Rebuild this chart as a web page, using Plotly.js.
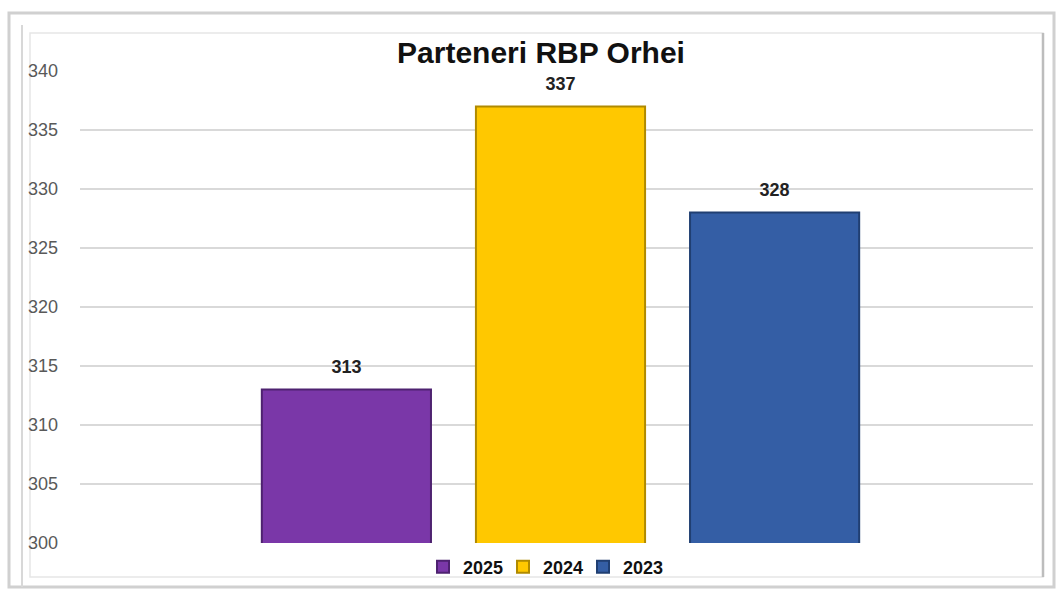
<!DOCTYPE html>
<html>
<head>
<meta charset="utf-8">
<script src="https://cdn.plot.ly/plotly-3.0.1.min.js"></script>
<style>html,body{margin:0;padding:0;background:#fff;}#chart{width:1056px;height:591px;}</style>
</head>
<body>
<div id="chart"></div>
<script>
const category = [''];
const seriesNames = ['2025', '2024', '2023'];
const seriesValues = [[313], [337], [328]];
const seriesColors = ['#7A37A8', '#FFC800', '#345EA5'];
const edgeColors = ['#4E2270', '#B08A00', '#203F72'];
const yTicks = [300, 305, 310, 315, 320, 325, 330, 335, 340];

const FONT = 'Liberation Sans, Arial, sans-serif';

const traces = seriesNames.map((name, i) => ({
  type: 'bar',
  name: name,
  x: category,
  y: seriesValues[i],
  marker: { color: seriesColors[i], line: { color: edgeColors[i], width: 2 } },
  text: seriesValues[i].map(v => String(v)),
  texttemplate: '<span style="font-size:18px"><b>%{text}</b></span><br> ',
  textposition: 'outside',
  cliponaxis: false,
  textfont: { family: FONT, size: 9, color: '#222222' },
  hoverinfo: 'none'
}));

// pixel -> paper helpers for the decorative frame (plot area 80..1033 x, 71..543 y)
const L = 80, R = 1033, T = 71, B = 543;
const px = v => (v - L) / (R - L);
const py = v => (B - v) / (B - T);
function frameRect(x0, y0, x1, y1, color, width) {
  return { type: 'rect', xref: 'paper', yref: 'paper', x0: px(x0), x1: px(x1), y0: py(y1), y1: py(y0),
           line: { color: color, width: width }, fillcolor: 'rgba(0,0,0,0)', layer: 'below' };
}
function frameLine(x0, y0, x1, y1, color, width) {
  return { type: 'line', xref: 'paper', yref: 'paper', x0: px(x0), x1: px(x1), y0: py(y0), y1: py(y1),
           line: { color: color, width: width }, layer: 'below' };
}

const layout = {
  width: 1056, height: 591,
  paper_bgcolor: '#ffffff', plot_bgcolor: 'rgba(0,0,0,0)',
  margin: { l: L, r: 1056 - R, t: T, b: 591 - B },
  title: { text: '<b>Parteneri RBP Orhei</b>', x: 541 / 1056, xanchor: 'center', y: 1 - 52 / 591, yanchor: 'middle',
           font: { family: FONT, size: 30, color: '#111111' } },
  barmode: 'group', bargap: 0.326, bargroupgap: 0.21,
  xaxis: { range: [-0.5042, 0.4958], showticklabels: false, showgrid: false, zeroline: false, showline: false, fixedrange: true },
  yaxis: { range: [300, 340], tickvals: yTicks, ticktext: yTicks.map(String), showgrid: true, gridcolor: '#D9D9D9', gridwidth: 1.5,
           zeroline: false, showline: false, ticks: '', ticklabelstandoff: 21,
           tickfont: { family: FONT, size: 18, color: '#595959' } },
  showlegend: true,
  legend: { orientation: 'h', x: 543 / 1056, xanchor: 'center', xref: 'container', y: (591 - 567) / 591, yanchor: 'middle', yref: 'container',
            traceorder: 'normal', bgcolor: 'rgba(0,0,0,0)', entrywidth: 35, entrywidthmode: 'pixels',
            font: { family: FONT, size: 18, color: '#111111', weight: 'bold' }, itemwidth: 30 },
  shapes: [
    frameRect(9, 13, 1054, 587, '#D0D0D0', 3),
    frameLine(22, 25, 22, 587, '#D8D8D8', 2),
    frameRect(30, 33, 1043, 577, '#E6E6E6', 1.5),
    frameLine(1043, 33, 1043, 577, '#BDBDBD', 2.5)
  ]
};

Plotly.newPlot('chart', traces, layout, { displayModeBar: false, staticPlot: true });
</script>
</body>
</html>
